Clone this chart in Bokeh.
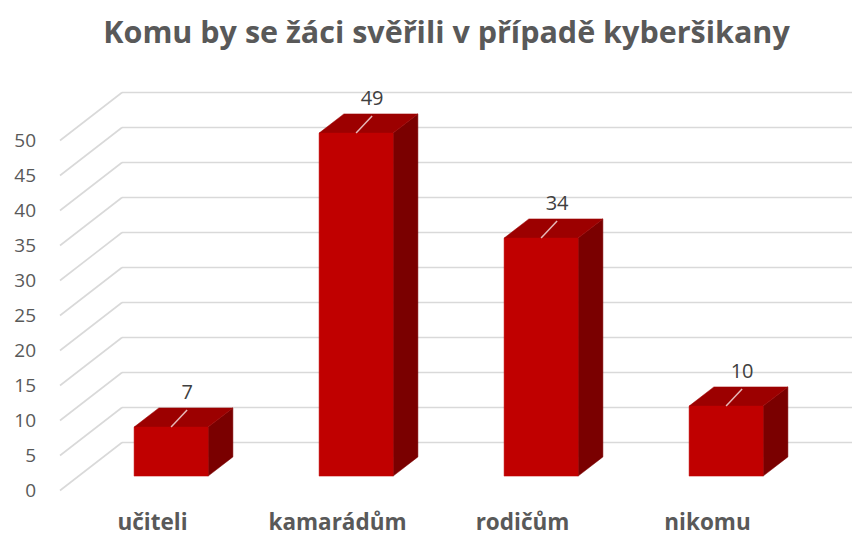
import numpy as np
from bokeh.plotting import figure
from bokeh.models import Range1d, ColumnDataSource
from bokeh.embed import file_html
from bokeh.resources import INLINE
from bokeh.core.properties import value

# ---- data ----
title_text = "Komu by se žáci svěřili v případě kyberšikany"
categories = ["učiteli", "kamarádům", "rodičům", "nikomu"]
counts = [7, 49, 34, 10]
y_ticks = [0, 5, 10, 15, 20, 25, 30, 35, 40, 45, 50]

# ---- geometry (pseudo 3-D); frame covers the whole canvas ----
W, H = 852, 538
PX_X = 185.0           # pixels per category unit
PX_Y = 7.0             # pixels per value unit
DEPTH_X = 62.0 / PX_X  # floor depth in x units
DEPTH_Y = 48.0 / PX_Y  # floor depth in y units
F0, F1 = 0.3, 0.7      # bar depth fraction (front, back)
HALF_W = 0.2           # half bar width
CAT_LEFT_PX = 59.5     # canvas px of the left edge of the first category slot
ZERO_PX = 490.0        # canvas px (from top) of value 0 on the front plane

x_start = -0.5 - CAT_LEFT_PX / PX_X
y_top = ZERO_PX / PX_Y
y_bottom = y_top - H / PX_Y

def px_x(px):  # canvas x pixel -> data x
    return x_start + px / PX_X

def px_y(py):  # canvas y pixel (from top) -> data y
    return y_top - py / PX_Y

FONT = "Open Sans"
TXT = "#595959"
GRID = "#D9D9D9"
FRONT = "#C00000"
TOP = "#9C0000"
SIDE = "#7A0000"

p = figure(width=W, height=H,
           x_range=Range1d(x_start, x_start + W / PX_X),
           y_range=Range1d(y_bottom, y_top),
           x_axis_type=None, y_axis_type=None,
           output_backend="svg", toolbar_location=None,
           min_border=0)
p.outline_line_color = None
p.background_fill_color = "white"
p.border_fill_color = "white"

# ---- gridlines: back wall + side slants ----
n = len(y_ticks)
back_y = [t + DEPTH_Y for t in y_ticks]
p.segment(x0=[-0.5 + DEPTH_X] * n, y0=back_y,
          x1=[len(categories) + DEPTH_X] * n, y1=back_y,
          line_color=GRID, line_width=1.6)
p.segment(x0=[-0.5] * n, y0=y_ticks, x1=[-0.5 + DEPTH_X] * n, y1=back_y,
          line_color=GRID, line_width=1.6)

# ---- bars ----
bx0, by0 = F0 * DEPTH_X, F0 * DEPTH_Y
bdx, bdy = (F1 - F0) * DEPTH_X, (F1 - F0) * DEPTH_Y
front_xs, front_ys, top_xs, top_ys, side_xs, side_ys = [], [], [], [], [], []
for i, v in enumerate(counts):
    xl = i - HALF_W + bx0
    xr = i + HALF_W + bx0
    yb = by0
    yt = v + by0
    front_xs.append([xl, xr, xr, xl]); front_ys.append([yb, yb, yt, yt])
    top_xs.append([xl, xr, xr + bdx, xl + bdx]); top_ys.append([yt, yt, yt + bdy, yt + bdy])
    side_xs.append([xr, xr + bdx, xr + bdx, xr]); side_ys.append([yb, yb + bdy, yt + bdy, yt])

p.patches(side_xs, side_ys, fill_color=SIDE, line_color=SIDE, line_width=0.5)
p.patches(top_xs, top_ys, fill_color=TOP, line_color=TOP, line_width=0.5)
p.patches(front_xs, front_ys, fill_color=FRONT, line_color=FRONT, line_width=0.5)

# ---- data labels with leader lines ----
lx = [i + bx0 for i in range(len(counts))]
ly = [v + by0 for v in counts]
p.segment(x0=lx, y0=ly, x1=[x + 16 / PX_X for x in lx], y1=[y + 17 / PX_Y for y in ly],
          line_color="#E6B8B8", line_width=1.5)
src = ColumnDataSource(dict(x=[x + 16 / PX_X for x in lx],
                            y=[y + 35 / PX_Y for y in ly],
                            t=[str(v) for v in counts]))
p.text(x="x", y="y", text="t", source=src, text_align="center", text_baseline="middle",
       text_font=value(FONT), text_font_size="20px", text_color="#404040")

# ---- value axis labels (front plane) ----
p.text(x=[-0.5 - 24 / PX_X] * n, y=y_ticks, text=[str(t) for t in y_ticks],
       text_align="right", text_baseline="middle",
       text_font=value(FONT), text_font_size="19px", text_color=TXT)

# ---- category labels ----
p.text(x=list(range(len(categories))), y=[px_y(521)] * len(categories), text=categories,
       text_align="center", text_baseline="middle",
       text_font=value(FONT), text_font_style="bold", text_font_size="22.5px", text_color=TXT)

# ---- title ----
p.text(x=[px_x(446)], y=[px_y(30)], text=[title_text],
       text_align="center", text_baseline="middle",
       text_font=value(FONT), text_font_style="bold", text_font_size="30.5px", text_color=TXT)

open("out.html", "w").write(file_html(p, INLINE))
